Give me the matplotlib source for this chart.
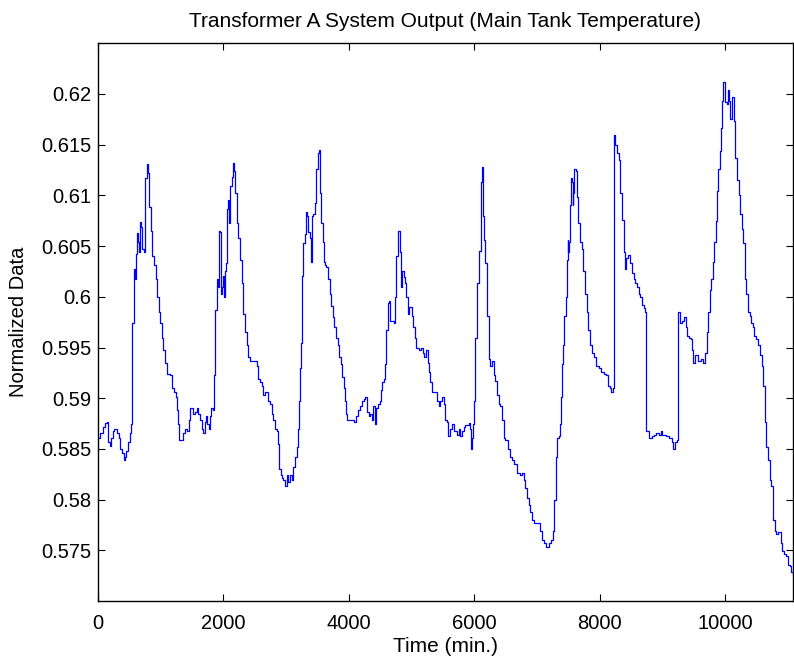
import numpy as np
import matplotlib.pyplot as plt
from matplotlib.ticker import FuncFormatter

# Main tank temperature, normalized, sampled by minute
time_min = [
    0, 37, 74, 117, 143, 159, 186, 207, 239, 260, 302, 329, 355, 382, 408, 424,
    451, 472, 504, 525, 541, 568, 584, 599, 621, 637, 653, 674, 690, 706, 727,
    753, 780, 801, 817, 838, 859, 891, 923, 939, 966, 992, 1019, 1045, 1072,
    1098, 1151, 1178, 1215, 1247, 1268, 1284, 1300, 1337, 1363, 1390, 1416,
    1448, 1469, 1496, 1523, 1549, 1576, 1602, 1629, 1655, 1682, 1708, 1724,
    1745, 1767, 1788, 1804, 1830, 1846, 1873, 1894, 1910, 1931, 1947, 1958,
    1973, 1989, 2011, 2027, 2042, 2053, 2074, 2090, 2106, 2133, 2149, 2170,
    2191, 2212, 2239, 2265, 2292, 2318, 2345, 2371, 2398, 2424, 2531, 2557,
    2584, 2610, 2637, 2663, 2690, 2716, 2743, 2769, 2796, 2823, 2849, 2875,
    2891, 2912, 2934, 2955, 2981, 3008, 3034, 3061, 3088, 3114, 3141, 3167,
    3194, 3210, 3225, 3241, 3257, 3273, 3300, 3326, 3342, 3358, 3379, 3395,
    3406, 3432, 3459, 3475, 3496, 3512, 3528, 3538, 3549, 3565, 3591, 3607,
    3623, 3645, 3671, 3697, 3723, 3750, 3771, 3798, 3824, 3851, 3878, 3899,
    3920, 3941, 3957, 3973, 4027, 4080, 4112, 4144, 4176, 4213, 4239, 4266,
    4293, 4319, 4346, 4372, 4388, 4415, 4441, 4468, 4495, 4516, 4537, 4559,
    4585, 4601, 4622, 4649, 4665, 4691, 4718, 4734, 4761, 4782, 4803, 4819,
    4835, 4856, 4878, 4904, 4920, 4941, 4963, 4984, 5011, 5027, 5053, 5080,
    5117, 5160, 5186, 5207, 5239, 5266, 5282, 5303, 5330, 5383, 5410, 5436,
    5463, 5489, 5516, 5543, 5569, 5585, 5622, 5649, 5676, 5702, 5729, 5755,
    5782, 5808, 5835, 5862, 5888, 5915, 5941, 5952, 5968, 5984, 6000, 6021,
    6048, 6074, 6096, 6112, 6128, 6144, 6165, 6181, 6207, 6234, 6261, 6287,
    6314, 6340, 6367, 6394, 6420, 6447, 6473, 6500, 6537, 6580, 6606, 6643,
    6686, 6739, 6766, 6793, 6819, 6846, 6872, 6899, 6925, 6952, 7005, 7032,
    7058, 7085, 7112, 7154, 7191, 7228, 7255, 7282, 7308, 7324, 7346, 7362,
    7380, 7396, 7422, 7438, 7460, 7476, 7492, 7503, 7513, 7529, 7545, 7561,
    7572, 7583, 7594, 7620, 7636, 7663, 7690, 7717, 7743, 7770, 7797, 7824,
    7850, 7877, 7914, 7947, 7984, 8021, 8064, 8107, 8128, 8160, 8187, 8214,
    8225, 8251, 8278, 8305, 8332, 8358, 8385, 8401, 8422, 8449, 8492, 8519,
    8545, 8572, 8599, 8626, 8652, 8679, 8706, 8733, 8743, 8786, 8840, 8866,
    8909, 8947, 8973, 9000, 9054, 9107, 9160, 9177, 9209, 9241, 9257, 9283,
    9321, 9348, 9374, 9401, 9428, 9455, 9481, 9497, 9519, 9551, 9572, 9615,
    9642, 9658, 9679, 9701, 9722, 9738, 9765, 9786, 9813, 9834, 9856, 9877,
    9893, 9915, 9936, 9947, 9963, 9989, 10005, 10032, 10048, 10070, 10086,
    10107, 10139, 10166, 10193, 10219, 10246, 10268, 10294, 10316, 10337,
    10364, 10396, 10417, 10444, 10471, 10498, 10524, 10562, 10588, 10615,
    10637, 10663, 10690, 10712, 10739, 10765, 10792, 10819, 10845, 10888,
    10910, 10942, 10979, 11006, 11033, 11049, 11086,
]
norm_data = [
    0.5861, 0.5866, 0.5872, 0.5876, 0.5877, 0.5857, 0.5853, 0.5861, 0.5868,
    0.5870, 0.5866, 0.5861, 0.5850, 0.5846, 0.5839, 0.5842, 0.5848, 0.5857,
    0.5866, 0.5875, 0.5974, 0.6027, 0.6018, 0.6042, 0.6063, 0.6054, 0.6044,
    0.6074, 0.6069, 0.6047, 0.6044, 0.6117, 0.6131, 0.6122, 0.6089, 0.6065,
    0.6040, 0.6031, 0.6018, 0.6000, 0.5985, 0.5974, 0.5959, 0.5948, 0.5935,
    0.5924, 0.5923, 0.5910, 0.5906, 0.5901, 0.5888, 0.5875, 0.5859, 0.5859,
    0.5866, 0.5870, 0.5868, 0.5879, 0.5890, 0.5890, 0.5884, 0.5886, 0.5890,
    0.5884, 0.5879, 0.5870, 0.5866, 0.5877, 0.5882, 0.5875, 0.5870, 0.5882,
    0.5890, 0.5888, 0.5923, 0.5987, 0.6018, 0.6010, 0.6065, 0.6064, 0.6003,
    0.6010, 0.6021, 0.6000, 0.6025, 0.6033, 0.6087, 0.6095, 0.6073, 0.6109,
    0.6118, 0.6132, 0.6124, 0.6102, 0.6073, 0.6058, 0.6036, 0.6014, 0.5983,
    0.5965, 0.5952, 0.5941, 0.5937, 0.5932, 0.5919, 0.5916, 0.5912, 0.5903,
    0.5906, 0.5906, 0.5897, 0.5894, 0.5884, 0.5879, 0.5870, 0.5868, 0.5855,
    0.5830, 0.5824, 0.5821, 0.5819, 0.5813, 0.5824, 0.5817, 0.5824, 0.5819,
    0.5832, 0.5842, 0.5852, 0.5870, 0.5897, 0.5930, 0.5954, 0.6021, 0.6053,
    0.6062, 0.6084, 0.6080, 0.6064, 0.6058, 0.6034, 0.6080, 0.6082, 0.6093,
    0.6126, 0.6126, 0.6142, 0.6145, 0.6124, 0.6102, 0.6073, 0.6054, 0.6034,
    0.6031, 0.6029, 0.6018, 0.6003, 0.5991, 0.5980, 0.5970, 0.5959, 0.5952,
    0.5941, 0.5934, 0.5921, 0.5910, 0.5897, 0.5884, 0.5879, 0.5879, 0.5877,
    0.5882, 0.5888, 0.5892, 0.5897, 0.5899, 0.5901, 0.5886, 0.5882, 0.5884,
    0.5879, 0.5892, 0.5875, 0.5890, 0.5894, 0.5897, 0.5908, 0.5916, 0.5919,
    0.5934, 0.5967, 0.5994, 0.5996, 0.5976, 0.5976, 0.5974, 0.6000, 0.6040,
    0.6065, 0.6065, 0.6044, 0.6010, 0.6025, 0.6020, 0.6014, 0.6000, 0.5983,
    0.5990, 0.5990, 0.5981, 0.5970, 0.5959, 0.5950, 0.5948, 0.5950, 0.5945,
    0.5941, 0.5948, 0.5935, 0.5926, 0.5916, 0.5906, 0.5906, 0.5897, 0.5892,
    0.5897, 0.5901, 0.5894, 0.5879, 0.5877, 0.5863, 0.5870, 0.5875, 0.5868,
    0.5868, 0.5864, 0.5870, 0.5863, 0.5868, 0.5872, 0.5874, 0.5874, 0.5876,
    0.5870, 0.5850, 0.5861, 0.5875, 0.5897, 0.5959, 0.6014, 0.6045, 0.6045,
    0.6113, 0.6128, 0.6080, 0.6056, 0.6033, 0.5981, 0.5939, 0.5932, 0.5937,
    0.5923, 0.5917, 0.5903, 0.5894, 0.5892, 0.5879, 0.5861, 0.5859, 0.5850,
    0.5842, 0.5839, 0.5835, 0.5826, 0.5824, 0.5826, 0.5819, 0.5811, 0.5802,
    0.5795, 0.5788, 0.5780, 0.5777, 0.5777, 0.5777, 0.5769, 0.5760, 0.5757,
    0.5753, 0.5757, 0.5760, 0.5769, 0.5800, 0.5842, 0.5861, 0.5863, 0.5875,
    0.5901, 0.5934, 0.5952, 0.5981, 0.6000, 0.6036, 0.6056, 0.6044, 0.6054,
    0.6091, 0.6117, 0.6113, 0.6091, 0.6102, 0.6126, 0.6124, 0.6098, 0.6073,
    0.6054, 0.6047, 0.6025, 0.6003, 0.5985, 0.5967, 0.5952, 0.5945, 0.5941,
    0.5932, 0.5930, 0.5926, 0.5924, 0.5923, 0.5912, 0.5910, 0.5906, 0.5910,
    0.6160, 0.6150, 0.6142, 0.6135, 0.6102, 0.6076, 0.6044, 0.6027, 0.6038,
    0.6041, 0.6033, 0.6023, 0.6018, 0.6014, 0.6010, 0.6003, 0.6000, 0.5992,
    0.5989, 0.5985, 0.5868, 0.5861, 0.5863, 0.5864, 0.5866, 0.5864, 0.5868,
    0.5864, 0.5863, 0.5861, 0.5857, 0.5850, 0.5857, 0.5859, 0.5985, 0.5974,
    0.5976, 0.5980, 0.5970, 0.5961, 0.5959, 0.5958, 0.5948, 0.5935, 0.5943,
    0.5943, 0.5937, 0.5939, 0.5939, 0.5935, 0.5945, 0.5945, 0.5965, 0.5985,
    0.6007, 0.6018, 0.6034, 0.6054, 0.6075, 0.6104, 0.6126, 0.6144, 0.6166,
    0.6193, 0.6212, 0.6212, 0.6192, 0.6190, 0.6204, 0.6193, 0.6175, 0.6197,
    0.6173, 0.6137, 0.6115, 0.6100, 0.6082, 0.6067, 0.6053, 0.6018, 0.6003,
    0.5985, 0.5981, 0.5974, 0.5970, 0.5961, 0.5958, 0.5952, 0.5943, 0.5932,
    0.5912, 0.5877, 0.5852, 0.5839, 0.5819, 0.5813, 0.5780, 0.5769, 0.5766,
    0.5768, 0.5757, 0.5749, 0.5746, 0.5744, 0.5736, 0.5735, 0.5729, 0.5727,
]

x_ticks = [0, 2000, 4000, 6000, 8000, 10000]
y_ticks = [0.575, 0.58, 0.585, 0.59, 0.595, 0.6, 0.605, 0.61, 0.615, 0.62]

plt.rcParams['font.family'] = ['Liberation Sans', 'DejaVu Sans']

fig = plt.figure(figsize=(7.94, 6.62), dpi=100)
ax = fig.add_axes([0.1234, 0.0921, 0.8753, 0.8425])

ax.plot(time_min, norm_data, color='#0000ff', linewidth=0.9,
        drawstyle='steps-post')

ax.set_xlim(0, 11086)
ax.set_ylim(0.57, 0.625)
ax.set_xticks(x_ticks)
ax.set_yticks(y_ticks)
ax.yaxis.set_major_formatter(FuncFormatter(lambda v, p: '%g' % round(v, 4)))
ax.tick_params(direction='in', length=5, width=0.8, top=True, right=True,
               labelsize=14.5)
ax.tick_params(axis='x', pad=9)
ax.tick_params(axis='y', pad=5)
for s in ax.spines.values():
    s.set_linewidth(1.0)

ax.set_title('Transformer A System Output (Main Tank Temperature)',
             fontsize=15, pad=12)
ax.set_xlabel('Time (min.)', fontsize=15, labelpad=3)
ax.set_ylabel('Normalized Data', fontsize=14.5)
ax.yaxis.set_label_coords(-0.1, 0.5)

fig.savefig('out.png', dpi=100)
